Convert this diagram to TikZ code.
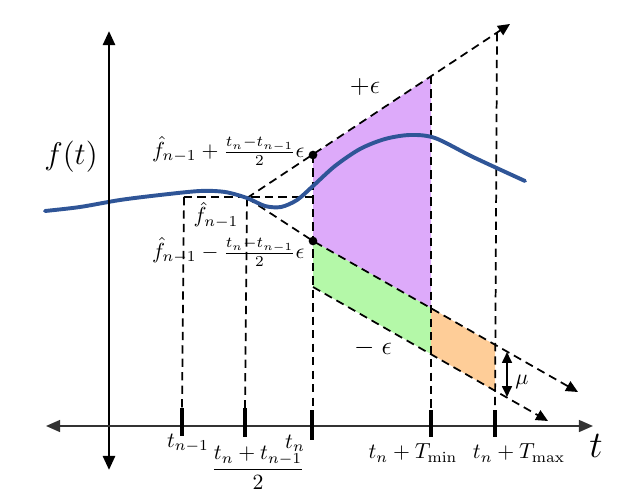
\documentclass[tikz,border=0pt]{standalone}
\usetikzlibrary{arrows.meta}
\definecolor{curveblue}{RGB}{47,85,151}
\definecolor{lpurple}{RGB}{221,170,250}
\definecolor{lgreen}{RGB}{180,248,168}
\definecolor{lorange}{RGB}{254,205,152}
\definecolor{axisgray}{RGB}{50,50,50}
\begin{document}
\begin{tikzpicture}[x=0.46pt,y=-0.46pt,
  dsh/.style={dash pattern=on 3.8pt off 2.4pt, line width=0.8pt},
  dtip/.style={-{Triangle[length=5.5pt,width=5pt]}},
  ticksty/.style={line width=1.6pt},
  dotsty/.style={circle, fill=black, inner sep=0pt, minimum size=4pt},
  lbl/.style={inner sep=0pt}]
\useasboundingbox (0,0) rectangle (630,501);

% key points
\coordinate (apex) at (247,198);
\coordinate (hl) at (184,197);
\coordinate (hr) at (313,197);
\coordinate (upA) at (313,155);
\coordinate (upB) at (431,76);
\coordinate (upC) at (497,33);
\coordinate (upEnd) at (510,24);
\coordinate (loA) at (313,241);
\coordinate (loB) at (431,308);
\coordinate (loC) at (495,345);
\coordinate (loEnd) at (578,392);
\coordinate (llA) at (313,287);
\coordinate (llB) at (431,354);
\coordinate (llC) at (495,391);
\coordinate (llEnd) at (548,421);
\coordinate (muT) at (507,352);
\coordinate (muB) at (507,397);

% fills
\fill[lpurple] (upA) -- (upB) -- (loB) -- (loA) -- cycle;
\fill[lgreen] (loA) -- (loB) -- (llB) -- (llA) -- cycle;
\fill[lorange] (loB) -- (loC) -- (llC) -- (llB) -- cycle;

% dashed construction lines
\draw[dsh, dtip] (apex) -- (upEnd);
\draw[dsh, dtip] (apex) -- (loA) -- (loEnd);
\draw[dsh, dtip] (llA) -- (llEnd);
\draw[dsh] (hl) -- (hr);
\draw[dsh] (hl) -- (182,408);
\draw[dsh] (apex) -- (245,408);
\draw[dsh] (upA) -- (313,410);
\draw[dsh] (upB) -- (431,410);
\draw[dsh] (upC) -- (495,410);

% curve
\draw[curveblue, line width=1.8pt, line cap=round] plot[smooth, tension=0.5] coordinates {
 (45,211) (80,207) (120,200) (160,195) (200,191) (225,192) (247,198) (265,206) (281,207)
 (297,200) (313,186) (335,166) (360,149) (385,139) (410,135) (435,138) (473,157) (525,181)};

% axes
\draw[line width=1.3pt, {Triangle[length=6.5pt,width=5.5pt]}-{Triangle[length=6.5pt,width=5.5pt]}] (109,470) -- (109,31);
\draw[axisgray, line width=0.8pt, {Triangle[length=6.5pt,width=5.5pt]}-{Triangle[length=6.5pt,width=5.5pt]}] (46,426) -- (593,426);

% ticks
\draw[ticksty] (182,408) -- (182,436);
\draw[ticksty] (245,408) -- (245,437);
\draw[ticksty] (312,410) -- (312,440);
\draw[ticksty] (431,410) -- (431,437);
\draw[ticksty] (495,410) -- (495,437);

% mu arrow
\draw[line width=0.9pt, {Triangle[length=5pt,width=4.5pt]}-{Triangle[length=5pt,width=4.5pt]}] (muT) -- (muB);
\node[lbl] (mu) at (522,382) {$\mu$};

% dots
\node[dotsty] (d1) at (upA) {};
\node[dotsty] (d2) at (loA) {};

% labels
\node[lbl] (ft) at (71,157) {\Large $f(t)$};
\node[lbl] (tax) at (596,446) {\LARGE $t$};
\node[lbl] (peps) at (365,87) {\large $+\epsilon$};
\node[lbl] (meps) at (373,348) {\large $-\;\epsilon$};
\node[lbl, anchor=east] (lup) at (305,151) {$\hat{f}_{n-1}+\frac{t_n-t_{n-1}}{2}\epsilon$};
\node[lbl] (lmid) at (216,215) {$\hat{f}_{n-1}$};
\node[lbl, anchor=east] (llo) at (305,252) {$\hat{f}_{n-1}-\frac{t_n-t_{n-1}}{2}\epsilon$};
\node[lbl] (x1) at (188,443) {$t_{n-1}$};
\node[lbl] (x2) at (258,468) {$\displaystyle\frac{t_n+t_{n-1}}{2}$};
\node[lbl] (x3) at (295,443) {$t_n$};
\node[lbl] (x4) at (413,453) {$t_n+T_{\min}$};
\node[lbl] (x5) at (519,453) {$t_n+T_{\max}$};
\end{tikzpicture}
\end{document}
